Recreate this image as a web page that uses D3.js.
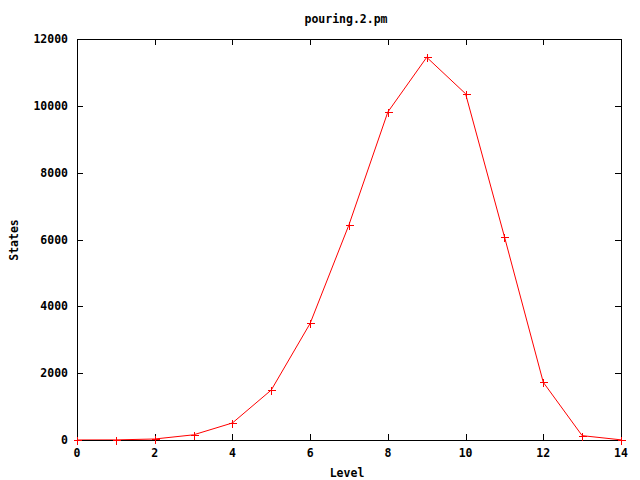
<!DOCTYPE html>
<html>
<head>
<meta charset="utf-8">
<script src="https://cdn.jsdelivr.net/npm/d3@7"></script>
<style>
  body { margin: 0; background: #fff; }
  svg text { font-family: "DejaVu Sans Mono", "Liberation Mono", monospace; font-weight: bold; font-size: 11.5px; fill: #000; }
</style>
</head>
<body>
<svg id="chart" width="640" height="480"></svg>
<script>
const levels = [0, 1, 2, 3, 4, 5, 6, 7, 8, 9, 10, 11, 12, 13, 14];
const states = [1, 3, 30, 155, 510, 1496, 3490, 6443, 9815, 11452, 10362, 6084, 1726, 130, 5];
const xTicks = [0, 2, 4, 6, 8, 10, 12, 14];
const yTicks = [0, 2000, 4000, 6000, 8000, 10000, 12000];
const title = "pouring.2.pm";
const xLabel = "Level";
const yLabel = "States";

(function () {
const svg = d3.select("#chart");
const pLeft = 77, pRight = 621, pTop = 39, pBottom = 440;
const x = d3.scaleLinear().domain([0, 14]).range([pLeft, pRight]);
const y = d3.scaleLinear().domain([0, 12000]).range([pBottom, pTop]);

svg.append("rect").attr("width", 640).attr("height", 480).attr("fill", "#fff");

// data line (drawn beneath the border)
const data = levels.map((l, i) => ({ l, v: states[i] }));
svg.append("path").datum(data)
  .attr("fill", "none").attr("stroke", "#ff0000").attr("stroke-width", 1)
  .attr("d", d3.line().x(d => x(d.l)).y(d => y(d.v)));

// ticks (inward, mirrored)
const tl = 6;
const g = svg.append("g").attr("stroke", "#000").attr("stroke-width", 1).attr("shape-rendering", "crispEdges");
xTicks.forEach(t => {
  const px = Math.round(x(t)) + 0.5;
  g.append("line").attr("x1", px).attr("x2", px).attr("y1", pBottom).attr("y2", pBottom - tl);
  g.append("line").attr("x1", px).attr("x2", px).attr("y1", pTop).attr("y2", pTop + tl);
});
yTicks.forEach(t => {
  const py = Math.round(y(t)) + 0.5;
  g.append("line").attr("x1", pLeft).attr("x2", pLeft + tl).attr("y1", py).attr("y2", py);
  g.append("line").attr("x1", pRight).attr("x2", pRight - tl).attr("y1", py).attr("y2", py);
});
g.append("rect").attr("x", pLeft + 0.5).attr("y", pTop + 0.5).attr("width", pRight - pLeft).attr("height", pBottom - pTop).attr("fill", "none");

// tick labels
xTicks.forEach(t => {
  svg.append("text").attr("x", x(t)).attr("y", 457).attr("text-anchor", "middle").text(t);
});
yTicks.forEach(t => {
  svg.append("text").attr("x", 68).attr("y", y(t) + 4).attr("text-anchor", "end").text(t);
});

// titles
svg.append("text").attr("x", 346).attr("y", 23).attr("text-anchor", "middle").text(title);
svg.append("text").attr("x", 347).attr("y", 477).attr("text-anchor", "middle").text(xLabel);
svg.append("text").attr("transform", "translate(18,240) rotate(-90)").attr("text-anchor", "middle").text(yLabel);

// markers
const m = 4;
const mg = svg.append("g").attr("stroke", "#ff0000").attr("stroke-width", 1).attr("shape-rendering", "crispEdges");
data.forEach(d => {
  const px = Math.round(x(d.l)) + 0.5, py = Math.round(y(d.v)) + 0.5;
  mg.append("line").attr("x1", px - m).attr("x2", px + m).attr("y1", py).attr("y2", py);
  mg.append("line").attr("x1", px).attr("x2", px).attr("y1", py - m).attr("y2", py + m);
});
})();
</script>
</body>
</html>
